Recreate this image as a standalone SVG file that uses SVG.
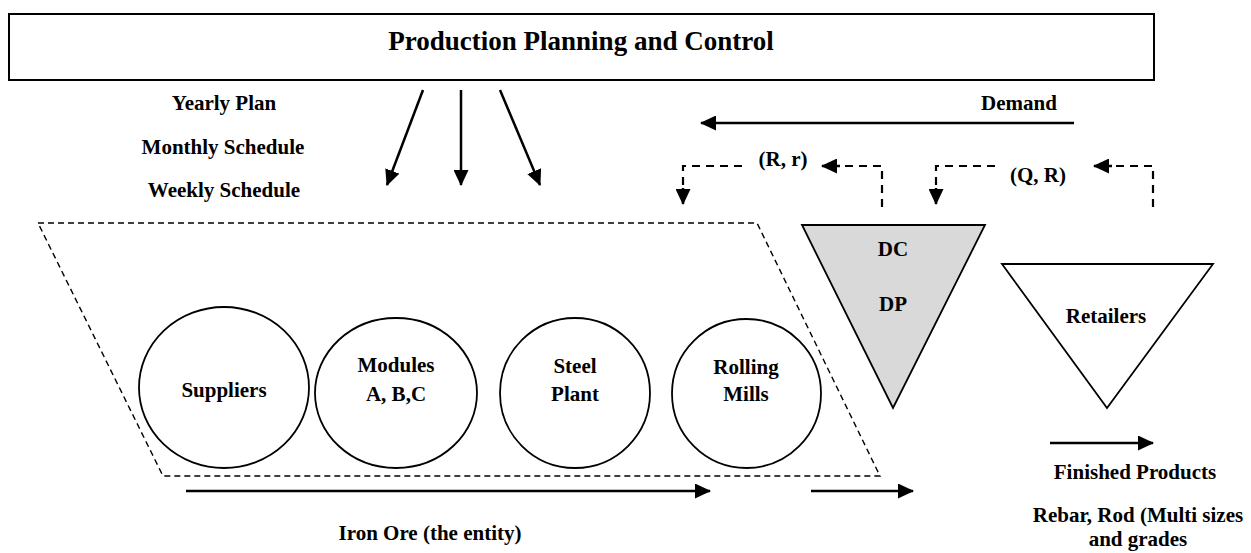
<svg xmlns="http://www.w3.org/2000/svg" width="1251" height="553" viewBox="0 0 1251 553">
  <defs>
    <style>
      text { font-family: "Liberation Serif", "Times New Roman", serif; font-weight: bold; fill: #000; text-anchor: middle; }
      .title { font-size: 27px; }
      .lbl { font-size: 21px; }
      .box { fill: #fff; stroke: #000; stroke-width: 2; }
      .node { fill: #fff; stroke: #000; stroke-width: 1.8; }
      .dc { fill: #d9d9d9; stroke: #000; stroke-width: 1.8; }
      .zone { fill: none; stroke: #000; stroke-width: 1.4; stroke-dasharray: 6 4; }
      .flow { fill: none; stroke: #000; stroke-width: 2.5; marker-end: url(#head); }
      .policy { fill: none; stroke: #000; stroke-width: 2.2; stroke-dasharray: 8 6; }
    </style>
    <marker id="head" markerUnits="userSpaceOnUse" markerWidth="16" markerHeight="15" refX="15" refY="7.5" orient="auto">
      <path d="M0,0 L16,7.5 L0,15 Z" fill="#000"/>
    </marker>
  </defs>

  <!-- planning and control header -->
  <g id="ppc">
    <rect class="box" x="9" y="14" width="1145" height="66"/>
    <text class="title" x="581" y="50">Production Planning and Control</text>
  </g>

  <!-- planning horizons -->
  <g id="plans">
    <text class="lbl" x="224" y="110">Yearly Plan</text>
    <text class="lbl" x="223" y="154">Monthly Schedule</text>
    <text class="lbl" x="224" y="197">Weekly Schedule</text>
  </g>

  <!-- production zone -->
  <g id="zone">
    <polygon class="zone" points="38,223 757,223 880,476 163,476"/>
  </g>

  <g id="suppliers">
    <ellipse class="node" cx="224" cy="387.5" rx="85" ry="80.5"/>
    <text class="lbl" x="224" y="397">Suppliers</text>
  </g>
  <g id="modules">
    <ellipse class="node" cx="396" cy="393" rx="81" ry="75"/>
    <text class="lbl" x="396" y="372">Modules</text>
    <text class="lbl" x="396" y="401">A, B,C</text>
  </g>
  <g id="steel-plant">
    <ellipse class="node" cx="575" cy="393" rx="75" ry="75"/>
    <text class="lbl" x="575" y="373">Steel</text>
    <text class="lbl" x="575" y="401">Plant</text>
  </g>
  <g id="rolling-mills">
    <ellipse class="node" cx="746.5" cy="393.5" rx="74.5" ry="74.5"/>
    <text class="lbl" x="746" y="374">Rolling</text>
    <text class="lbl" x="746" y="401">Mills</text>
  </g>

  <!-- distribution -->
  <g id="dc">
    <polygon class="dc" points="802,225 985,225 893,408"/>
    <text class="lbl" x="893" y="256">DC</text>
    <text class="lbl" x="893" y="311">DP</text>
  </g>
  <g id="retailers">
    <polygon class="node" points="1002,264 1213,264 1107,408"/>
    <text class="lbl" x="1106" y="323">Retailers</text>
  </g>

  <!-- connectors -->
  <g id="connectors">
    <path class="flow" d="M423,90 L387,185"/>
    <path class="flow" d="M461,90 L461,185"/>
    <path class="flow" d="M500,90 L540,185"/>

    <path class="flow" d="M1074,123 L701,123"/>

    <!-- (R, r) reorder policy -->
    <path class="policy" d="M742,166 L683,166 L683,190"/>
    <path class="flow" d="M683,188 L683,204"/>
    <path class="policy" d="M882,207 L882,166 L838,166"/>
    <path class="flow" d="M840,166 L822,166"/>

    <!-- (Q, R) reorder policy -->
    <path class="policy" d="M995,166 L936,166 L936,190"/>
    <path class="flow" d="M936,188 L936,204"/>
    <path class="policy" d="M1153,207 L1153,166 L1110,166"/>
    <path class="flow" d="M1112,166 L1094,166"/>

    <path class="flow" d="M186,491 L710,491"/>
    <path class="flow" d="M811,491 L913,491"/>
    <path class="flow" d="M1050,443 L1153,443"/>
  </g>

  <!-- flow labels -->
  <g id="labels">
    <text class="lbl" x="1019" y="110">Demand</text>
    <text class="lbl" x="783" y="166">(R, r)</text>
    <text class="lbl" x="1038" y="182">(Q, R)</text>
    <text class="lbl" x="430" y="540">Iron Ore (the entity)</text>
    <text class="lbl" x="1135" y="479">Finished Products</text>
    <text class="lbl" x="1138" y="522">Rebar, Rod (Multi sizes</text>
    <text class="lbl" x="1138" y="546">and grades</text>
  </g>
</svg>
